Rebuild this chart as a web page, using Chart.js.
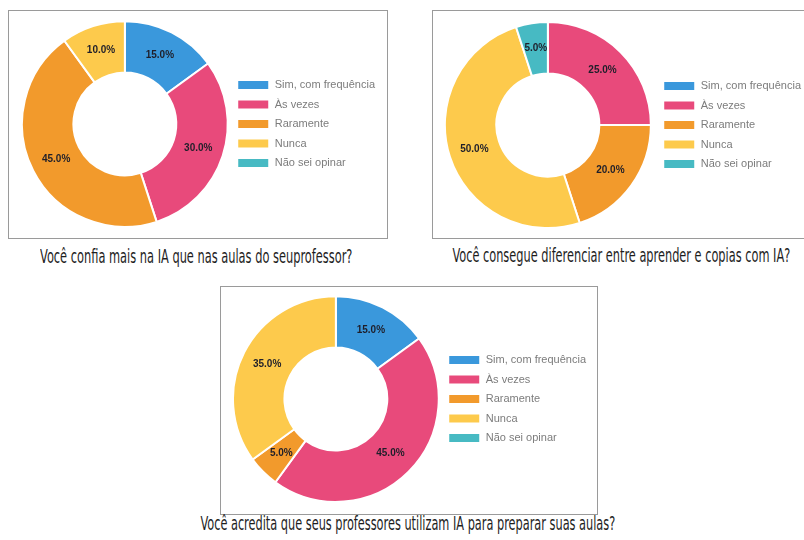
<!DOCTYPE html>
<html>
<head>
<meta charset="utf-8">
<script src="https://cdn.jsdelivr.net/npm/chart.js@4.4.1/dist/chart.umd.min.js"></script>
<style>
  body { margin: 0; background: #fff; }
  #page { position: relative; width: 804px; height: 540px; overflow: hidden; }
  .panel { position: absolute; border: 1px solid #9a9a9a; box-sizing: border-box; background: #fff; }
  canvas { position: absolute; }
  .cap {
    position: absolute; white-space: nowrap; line-height: 19px;
    font-family: "DejaVu Sans Condensed", "DejaVu Sans", sans-serif;
    font-stretch: condensed; font-size: 19px; color: #1e1e1e;
    transform-origin: center top;
  }
</style>
</head>
<body>
<div id="page">
  <div class="panel" style="left:8px;top:10px;width:380px;height:229px"></div>
  <div class="panel" style="left:432px;top:10px;width:380px;height:229px"></div>
  <div class="panel" style="left:220px;top:286px;width:378px;height:229px"></div>
  <canvas id="c1" width="364" height="208" style="left:21px;top:20px"></canvas>
  <canvas id="c2" width="370" height="208" style="left:441px;top:21px"></canvas>
  <canvas id="c3" width="364" height="208" style="left:232px;top:295px"></canvas>
  <div class="cap" id="t1" data-cx="196" data-w="312" style="top:247px">Você confia mais na IA que nas aulas do seuprofessor?</div>
  <div class="cap" id="t2" data-cx="621" data-w="338" style="top:246px">Você consegue diferenciar entre aprender e copias com IA?</div>
  <div class="cap" id="t3" data-cx="408" data-w="415" style="top:514px">Você acredita que seus professores utilizam IA para preparar suas aulas?</div>
</div>
<script>
// answer options shared by the three questions
const labels = ['Sim, com frequência', 'Às vezes', 'Raramente', 'Nunca', 'Não sei opinar']
const colors = ['#3a98dc', '#e84a7b', '#f29a2c', '#fdca4c', '#47bac3']

// percent per answer
const confiaIA = [15, 30, 45, 10, 0]
const diferencia = [0, 25, 20, 50, 5]
const professoresIA = [15, 45, 5, 35, 0]

// draws "xx.x%" in the middle of every slice
const sliceLabels = {
  id: 'sliceLabels',
  afterDatasetsDraw(chart) {
    const ctx = chart.ctx
    const data = chart.data.datasets[0].data
    const total = data.reduce((a, b) => a + b, 0)
    chart.getDatasetMeta(0).data.forEach((arc, i) => {
      if (!data[i]) return
      const p = arc.getCenterPoint()
      ctx.save()
      ctx.font = 'bold 10px "Liberation Sans", Arial, sans-serif'
      ctx.fillStyle = '#1f1f2a'
      ctx.textAlign = 'center'
      ctx.textBaseline = 'middle'
      ctx.fillText((data[i] / total * 100).toFixed(1) + '%', p.x, p.y)
      ctx.restore()
    })
  }
}

function makeDoughnut(canvasId, values) {
  return new Chart(document.getElementById(canvasId), {
    type: 'doughnut',
    plugins: [sliceLabels],
    data: {
      labels: labels,
      datasets: [{
        data: values,
        backgroundColor: colors,
        borderColor: '#ffffff',
        borderWidth: 2
      }]
    },
    options: {
      responsive: false,
      animation: false,
      cutout: '50%',
      layout: { padding: 0 },
      plugins: {
        tooltip: { enabled: false },
        legend: {
          position: 'right',
          align: 'center',
          labels: {
            boxWidth: 32,
            boxHeight: 10,
            padding: 8.5,
            color: '#7c7c7c',
            font: { family: '"Liberation Sans", Arial, sans-serif', size: 11 }
          }
        }
      }
    }
  })
}

makeDoughnut('c1', confiaIA)
makeDoughnut('c2', diferencia)
makeDoughnut('c3', professoresIA)

// squeeze the captions to the narrow look of the original
document.querySelectorAll('.cap').forEach(el => {
  const w = el.offsetWidth
  const target = Number(el.dataset.w)
  const cx = Number(el.dataset.cx)
  el.style.left = (cx - w / 2) + 'px'
  el.style.transform = 'scaleX(' + (target / w) + ')'
})
</script>
</body>
</html>
